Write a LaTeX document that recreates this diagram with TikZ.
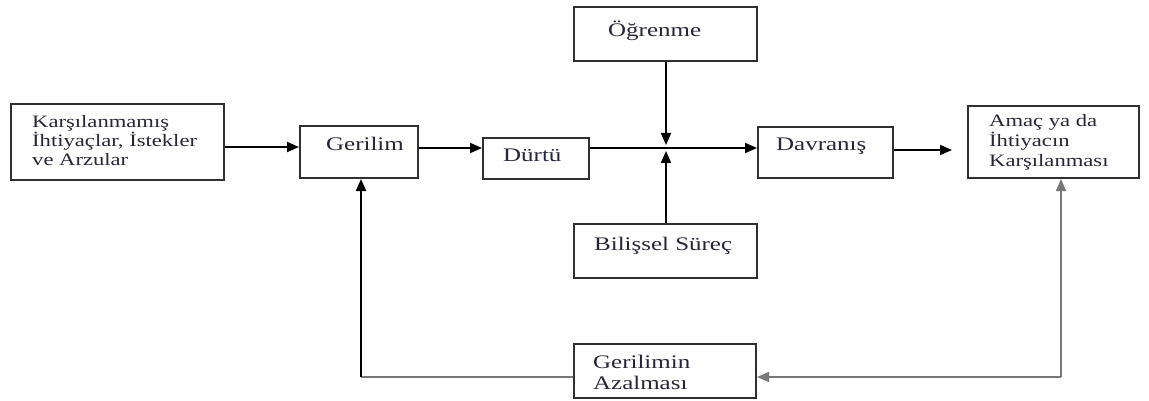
\documentclass[tikz,border=0pt]{standalone}
\usepackage{fontspec}
\setmainfont{Liberation Serif}[FakeStretch=1.3]
\usetikzlibrary{arrows.meta}
\definecolor{ink}{RGB}{38,38,56}
\definecolor{frame}{RGB}{48,48,48}
\definecolor{fbgray}{RGB}{120,120,120}
\begin{document}
\begin{tikzpicture}[x=1pt,y=-1pt,
  box/.style={draw=frame,line width=2pt,inner sep=0pt},
  lbl/.style={text=ink,inner sep=0pt,anchor=base west,align=left,
    font=\fontsize{19.2}{21}\selectfont},
  lblml/.style={text=ink,inner sep=0pt,anchor=base west,align=left,
    font=\fontsize{17.4}{18}\selectfont},
  tip/.style={-{Triangle[length=12pt,width=10pt]}},
  flow/.style={tip,line width=1.8pt,draw=black},
  fbline/.style={line width=1.5pt,draw=fbgray},
  fbflow/.style={tip,line width=1.5pt,draw=fbgray}
]
\useasboundingbox (0,0) rectangle (1149,401);

% boxes
\node[box,minimum width=213pt,minimum height=76pt] (k)  at (117.5,142) {};
\node[box,minimum width=118pt,minimum height=52pt] (g)  at (359,152) {};
\node[box,minimum width=106pt,minimum height=41pt] (d)  at (536,158.5) {};
\node[box,minimum width=183pt,minimum height=54pt] (o)  at (665.5,34) {};
\node[box,minimum width=183pt,minimum height=54pt] (b)  at (665.5,251) {};
\node[box,minimum width=135pt,minimum height=51pt] (dv) at (825.5,152.5) {};
\node[box,minimum width=171pt,minimum height=72pt] (a)  at (1053.5,142) {};
\node[box,minimum width=182pt,minimum height=54pt] (ga) at (665,371) {};

% labels (multi-line labels are placed by the baseline of their last line)
\node[lblml] (kt) at (32,165) {Karşılanmamış\\İhtiyaçlar, İstekler\\ve Arzular};
\node[lbl] (gt) at (326,151) {Gerilim};
\node[lbl] (dt) at (503,161) {Dürtü};
\node[lbl] (ot) at (608,37) {Öğrenme};
\node[lbl] (bt) at (594,250) {Bilişsel Süreç};
\node[lbl] (dvt) at (776,151) {Davranış};
\node[lblml,font=\fontsize{17.4}{20}\selectfont] (at) at (989,167) {Amaç ya da\\İhtiyacın\\Karşılanması};
\node[lbl] (gat) at (593,389) {Gerilimin\\Azalması};

% junction and routing points
\coordinate (jn) at (666,148);
\coordinate (ra) at (0,150);
\coordinate (rk) at (0,147);
\coordinate (fr) at (1061,377);
\coordinate (fl) at (361,377);

% main flow
\draw[flow] (k.east |- rk) -- (g.west |- rk);
\draw[flow] (g.east |- jn) -- (d.west |- jn);
\draw[flow] (d.east |- jn) -- (dv.west |- jn);
\draw[flow] (o.south -| jn) -- ([yshift=3pt]jn);
\draw[flow] (b.north -| jn) -- ([yshift=-3pt]jn);
\draw[flow,shorten >=15pt] (dv.east |- ra) -- (a.west |- ra);

% feedback loop
\draw[fbflow] (fr) -- (ga.east |- fr);
\draw[fbflow] (fr) -- (a.south -| fr);
\draw[fbline] (ga.west |- fl) -- (fl);
\draw[flow,line width=2.2pt] (fl) -- (g.south -| fl);
\end{tikzpicture}
\end{document}
